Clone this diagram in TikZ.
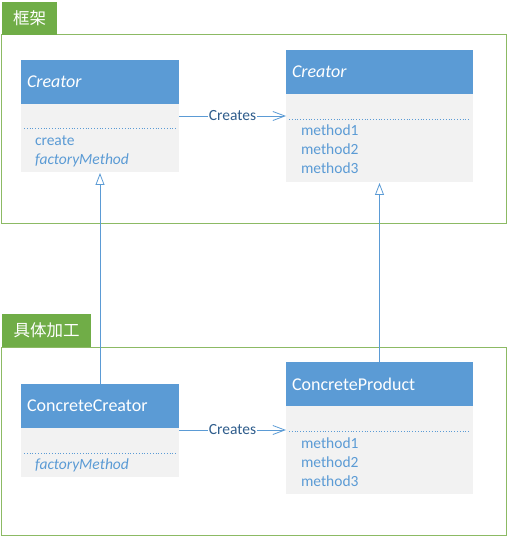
\documentclass[tikz,border=0pt]{standalone}
\usepackage{fontspec}
\setmainfont{Carlito}
\newfontfamily\cjk{Noto Sans CJK SC}
\usetikzlibrary{positioning,calc,arrows.meta}
\definecolor{hdblue}{HTML}{5B9BD5}
\definecolor{bodygray}{HTML}{F2F2F2}
\definecolor{tabgreen}{HTML}{70AD47}
\definecolor{framegreen}{HTML}{8CBA64}
\definecolor{linkblue}{HTML}{2F5D8C}

\tikzset{
    header/.style={fill=hdblue, text=white, anchor=north west, minimum height=44pt, inner xsep=6pt, align=left, font=\fontsize{18}{20}\selectfont},
    body/.style={fill=bodygray, minimum height=#1, inner sep=0pt},
    member/.style={anchor=base west, text=hdblue, inner sep=0pt, font=\fontsize{15.5}{18}\selectfont},
    sep/.style={draw=hdblue, dotted, line width=0.8pt},
    frame/.style={draw=framegreen, line width=1pt},
    tab/.style={fill=tabgreen, text=white, anchor=south west, minimum width=#1, minimum height=33pt, inner sep=0pt, font=\cjk\fontsize{16.5}{18}\selectfont},
    creates/.style={draw=hdblue, line width=0.8pt, -{Straight Barb[length=12pt, width=9pt]}},
    inherits/.style={draw=hdblue, line width=0.8pt, -{Triangle[open, length=12pt, width=9pt]}, shorten >=1pt},
    linklabel/.style={fill=white, text=linkblue, inner sep=1pt, font=\fontsize{15.5}{18}\selectfont}
}

\begin{document}
\begin{tikzpicture}[x=1pt, y=-1pt, node distance=0pt, outer sep=0pt]
    \useasboundingbox (0,0) rectangle (507,537);

    % frames
    \draw [frame] (1,35) rectangle (506,223);
    \node [tab=55pt] (tabtop) at (2,35) {框架};
    \draw [frame] (1,347) rectangle (506,535);
    \node [tab=89pt] (tabbottom) at (2,347) {具体加工};

    % abstract creator
    \node [header, text width=146pt] (crh) at (21,60) {\itshape Creator};
    \node [body=68pt, minimum width=158pt, below=of crh] (crb) {};
    \draw [sep] ($(crb.north west)+(3,24)$) -- ($(crb.north east)+(-3,24)$);
    \node [member] (crm1) at ($(crb.north west)+(14,42)$) {create};
    \node [member] (crm2) at ($(crb.north west)+(14,61)$) {\itshape factoryMethod};

    % abstract product
    \node [header, text width=175pt] (prh) at (286,50) {\itshape Creator};
    \node [body=88pt, minimum width=187pt, below=of prh] (prb) {};
    \draw [sep] ($(prb.north west)+(3,25)$) -- ($(prb.north east)+(-3,25)$);
    \node [member] (prm1) at ($(prb.north west)+(15,42)$) {method1};
    \node [member] (prm2) at ($(prb.north west)+(15,61)$) {method2};
    \node [member] (prm3) at ($(prb.north west)+(15,80)$) {method3};

    % concrete creator
    \node [header, text width=146pt] (cch) at (21,384) {ConcreteCreator};
    \node [body=49pt, minimum width=158pt, below=of cch] (ccb) {};
    \draw [sep] ($(ccb.north west)+(3,25)$) -- ($(ccb.north east)+(-3,25)$);
    \node [member] (ccm1) at ($(ccb.north west)+(14,41)$) {\itshape factoryMethod};

    % concrete product
    \node [header, text width=175pt] (cph) at (286,362) {ConcreteProduct};
    \node [body=88pt, minimum width=187pt, below=of cph] (cpb) {};
    \draw [sep] ($(cpb.north west)+(3,25)$) -- ($(cpb.north east)+(-3,25)$);
    \node [member] (cpm1) at ($(cpb.north west)+(15,42)$) {method1};
    \node [member] (cpm2) at ($(cpb.north west)+(15,61)$) {method2};
    \node [member] (cpm3) at ($(cpb.north west)+(15,80)$) {method3};

    % connectors
    \draw [creates] ([yshift=-12pt]crb.north east) -- ([yshift=-12pt]crb.north east -| prb.west)
        node [linklabel, midway] (lbtop) {Creates};
    \draw [creates] ([yshift=-2pt]ccb.north east) -- ([yshift=-2pt]ccb.north east -| cpb.west)
        node [linklabel, midway] (lbbottom) {Creates};
    \draw [inherits] (cch.north) -- (crb.south);
    \draw [inherits] (cph.north) -- (prb.south);
\end{tikzpicture}
\end{document}
